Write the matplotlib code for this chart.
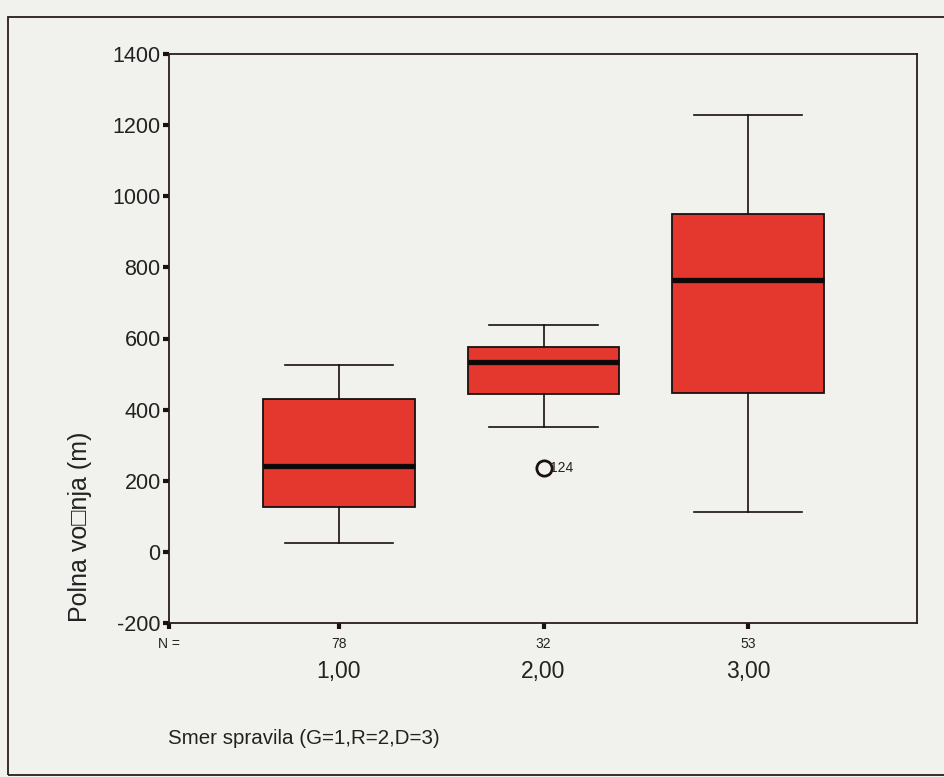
import matplotlib.pyplot as plt
import matplotlib.patches as patches

plt.rcParams['font.family'] = ['Liberation Sans', 'DejaVu Sans']
plt.rcParams['axes.unicode_minus'] = False

# podatki odčitani s slike
groups = ['1,00', '2,00', '3,00']
n_counts = ['78', '32', '53']
whislo = [25, 351, 112]
q1 = [126, 444, 447]
med = [241, 534, 765]
q3 = [430, 576, 950]
whishi = [525, 638, 1229]
fliers = [[], [236], []]
flier_ids = [[], ['124'], []]

bg = '#f1f1ed'
box_red = '#e4372d'

fig = plt.figure(figsize=(9.45, 7.77), dpi=100, facecolor=bg)
ax = fig.add_axes([169 / 945, 1 - 623 / 777, (917 - 169) / 945, (623 - 54) / 777])
ax.set_facecolor(bg)

stats = []
for i in range(len(groups)):
    stats.append(dict(med=med[i], q1=q1[i], q3=q3[i], whislo=whislo[i],
                      whishi=whishi[i], fliers=fliers[i]))

pos = [1, 2, 3]
ax.bxp(stats, positions=pos, widths=0.74, patch_artist=True, showfliers=True,
       boxprops=dict(facecolor=box_red, edgecolor='#1a1010', linewidth=1.3),
       medianprops=dict(color='#100808', linewidth=3.8, solid_capstyle='butt'),
       whiskerprops=dict(color='#1a1010', linewidth=1.2),
       capprops=dict(color='#1a1010', linewidth=1.2),
       capwidths=0.53,
       flierprops=dict(marker='o', markersize=11, markerfacecolor='none',
                       markeredgecolor='#1a1010', markeredgewidth=2))

for i, ids in enumerate(flier_ids):
    for v, lab in zip(fliers[i], ids):
        ax.annotate(lab, (pos[i], v), xytext=(5, 0), textcoords='offset points',
                    va='center', ha='left', fontsize=10, color='#222222')

xl = 0.169
ax.set_xlim(xl, 3.826)
ax.set_ylim(-200, 1400)
ax.set_yticks(range(-200, 1401, 200))
ax.set_xticks([xl] + pos)
ax.set_xticklabels(['N ='] + n_counts, fontsize=10, color='#222222')
ax.tick_params(axis='both', direction='out', length=4, width=3, color='#1a1010')
ax.tick_params(axis='y', labelsize=15.5, pad=2, labelcolor='#222222')
ax.tick_params(axis='x', pad=6)
for s in ax.spines.values():
    s.set_linewidth(1.3)
    s.set_color('#2a1c1c')

for p, g in zip(pos, groups):
    ax.text(p, -0.086, g, transform=ax.get_xaxis_transform(), ha='center',
            va='center', fontsize=16.5, color='#222222')

fig.text(80 / 945, 1 - 622 / 777, 'Polna vo\u25a1nja (m)', rotation=90, ha='center',
         va='bottom', fontsize=18, color='#222222')
fig.text(168 / 945, 1 - 738 / 777, 'Smer spravila (G=1,R=2,D=3)', ha='left',
         va='center', fontsize=14.8, color='#222222')

# zunanji okvir
frame = patches.Rectangle((8 / 945, 1 - 775 / 777), 1.0, (775 - 17) / 777,
                          transform=fig.transFigure, fill=False, linewidth=1.3,
                          edgecolor='#2a1c1c', clip_on=False)
fig.patches.append(frame)

plt.savefig('out.png', dpi=100, facecolor=bg)
